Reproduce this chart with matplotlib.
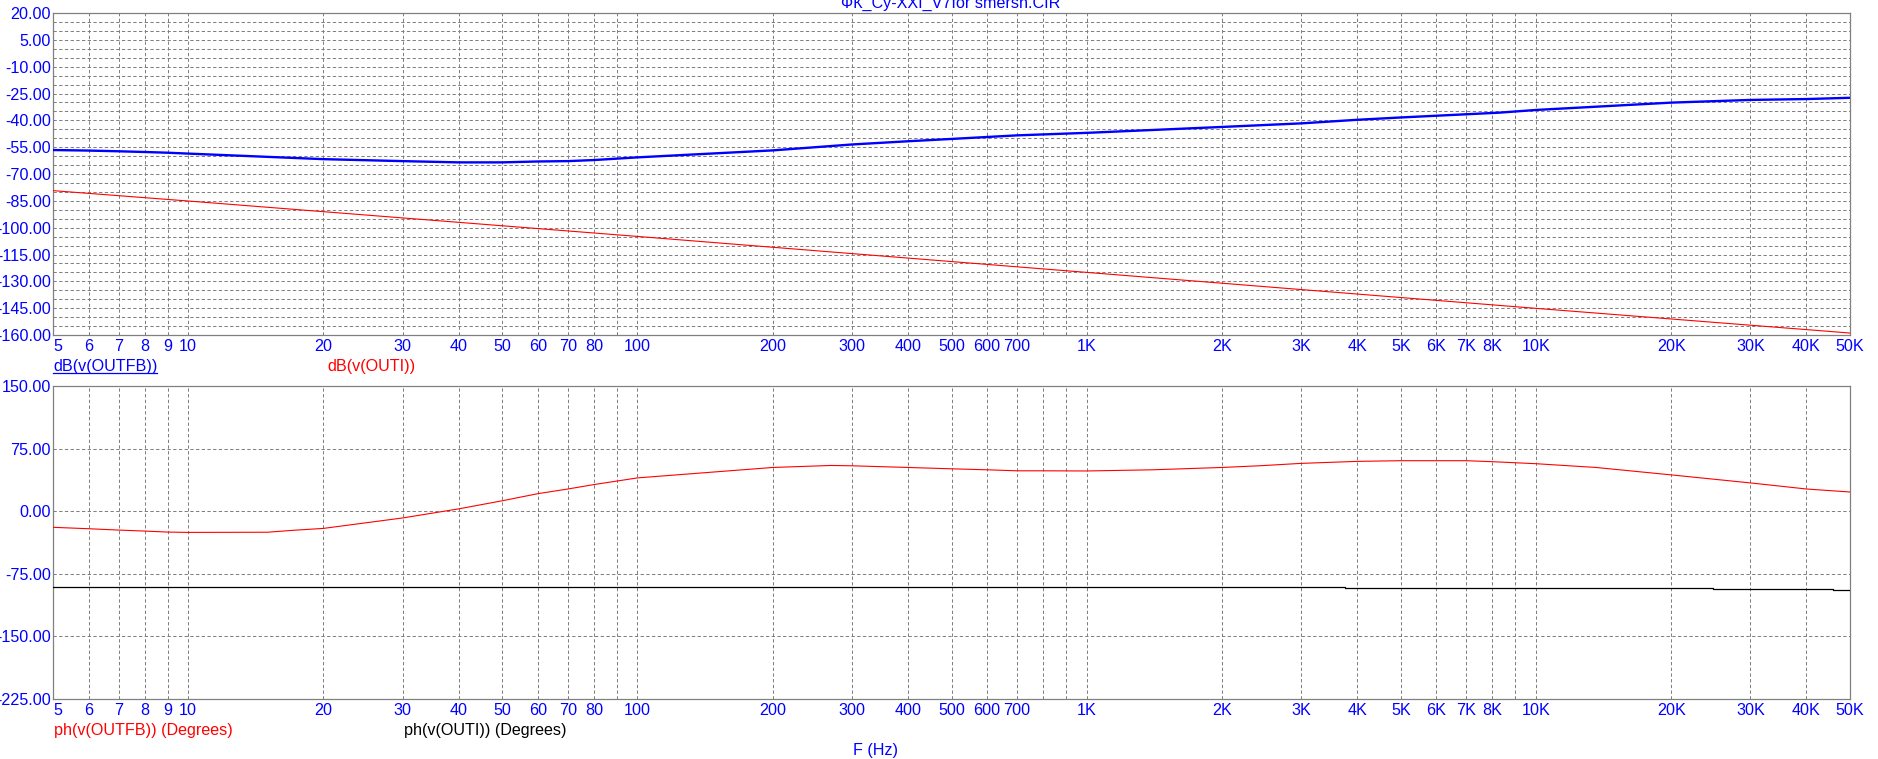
import matplotlib
matplotlib.use("Agg")
import matplotlib.pyplot as plt
from matplotlib.lines import Line2D

plt.rcParams['font.family'] = ['Liberation Sans', 'DejaVu Sans']

W, H = 1878, 759
DPI = 100

# ---------------- data ----------------
title_text = "ФК_Су-XXI_V7for smersh.CIR"

# labelled frequency ticks
freq_ticks = [5, 6, 7, 8, 9, 10, 20, 30, 40, 50, 60, 70, 80, 100,
              200, 300, 400, 500, 600, 700, 1000, 2000, 3000, 4000, 5000,
              6000, 7000, 8000, 10000, 20000, 30000, 40000, 50000]
freq_tick_labels = ["5", "6", "7", "8", "9", "10", "20", "30", "40", "50", "60",
                    "70", "80", "100", "200", "300", "400", "500", "600", "700",
                    "1K", "2K", "3K", "4K", "5K", "6K", "7K", "8K", "10K",
                    "20K", "30K", "40K", "50K"]

# top plot: magnitude (dB)
freq_outfb_db = [5, 6, 7, 8, 9, 10, 20, 30, 40, 50, 60, 70, 80, 100, 200, 300,
                 400, 500, 700, 1000, 2000, 3000, 4000, 5000, 8300, 10000,
                 20000, 30000, 40000, 50000]
db_outfb = [-56.6, -56.9, -57.3, -57.7, -58.1, -58.6, -61.7, -62.8, -63.5, -63.5,
            -63.0, -62.8, -62.2, -60.7, -56.8, -53.5, -51.7, -50.4, -48.4, -47.0,
            -43.7, -41.7, -39.7, -38.4, -35.7, -34.2, -30.1, -28.6, -28.1, -27.4]

freq_outi_db = [5, 10, 100, 1000, 10000, 50000]
db_outi = [-79.3, -85.1, -104.9, -125.0, -145.1, -158.9]

db_ticks = [20, 5, -10, -25, -40, -55, -70, -85, -100, -115, -130, -145, -160]

# bottom plot: phase (degrees)
freq_outfb_ph = [5, 6, 7, 8, 9, 10, 15, 17, 20, 30, 40, 50, 60, 70, 80, 100,
                 200, 270, 300, 400, 500, 600, 700, 800, 1000, 1400, 2000, 2440,
                 3000, 4000, 5000, 7000, 8000, 10000, 13600, 20000, 30000,
                 40000, 50000]
ph_outfb = [-19.3, -21.0, -22.6, -23.8, -25.0, -25.4, -25.2, -23.0, -20.6, -8.1,
            2.8, 12.5, 21.0, 26.6, 31.9, 39.9, 52.4, 54.8, 54.4, 52.4, 50.8,
            49.6, 48.4, 48.4, 48.2, 49.6, 52.4, 54.5, 57.3, 59.7, 60.5, 60.5,
            59.3, 56.9, 52.4, 43.5, 33.9, 26.6, 23.0]

freq_outi_ph = [5, 3760, 24800, 45800, 50000]
ph_outi = [-90.7, -91.9, -93.1, -94.7, -94.7]

ph_ticks = [150, 75, 0, -75, -150, -225]

# ---------------- styling ----------------
BLUE = "#0000FF"
RED = "#FF0000"
GRID = "#808080"
FS = 11.6

fig = plt.figure(figsize=(W / DPI, H / DPI), dpi=DPI)
fig.patch.set_facecolor("white")


def px_rect(left, top, right, bottom):
    return [left / W, 1 - bottom / H, (right - left) / W, (bottom - top) / H]


ax1 = fig.add_axes(px_rect(53, 13, 1850, 335))
ax2 = fig.add_axes(px_rect(53, 386, 1850, 699))

# all vertical grid positions: n*10^k in range
grid_x = [n * 10 ** k for k in range(0, 5) for n in range(1, 10)
          if 5 <= n * 10 ** k <= 50000]
grid_x_labels = [freq_tick_labels[freq_ticks.index(g)] if g in freq_ticks else ""
                 for g in grid_x]

for ax in (ax1, ax2):
    ax.set_xscale("log")
    ax.set_xlim(5, 50000)
    ax.set_xticks(grid_x, labels=grid_x_labels)
    ax.xaxis.set_minor_locator(matplotlib.ticker.NullLocator())
    ax.tick_params(axis="both", which="both", length=0, labelcolor=BLUE,
                   labelsize=FS)
    ax.tick_params(axis="x", pad=2.6)
    ax.tick_params(axis="y", pad=1.6)
    ax.grid(True, which="major", color=GRID, linewidth=0.72,
            linestyle=(0, (3.3, 2.4)))
    ax.set_axisbelow(True)
    for s in ax.spines.values():
        s.set_color(GRID)
        s.set_linewidth(0.9)
    for lab in ax.get_xticklabels():
        if lab.get_text() == "5":
            lab.set_horizontalalignment("left")

# top axis
ax1.plot(freq_outfb_db, db_outfb, color=BLUE, linewidth=1.7, zorder=3)
ax1.plot(freq_outi_db, db_outi, color=RED, linewidth=0.8, zorder=3)
ax1.set_ylim(-160, 20)
db_grid = list(range(20, -161, -5))
ax1.set_yticks(db_grid, labels=[f"{v:.2f}" if v in db_ticks else "" for v in db_grid])

# bottom axis
ax2.plot(freq_outfb_ph, ph_outfb, color=RED, linewidth=0.8, zorder=3)
ax2.plot(freq_outi_ph, ph_outi, color="black", linewidth=0.9,
         drawstyle="steps-post", zorder=3)
ax2.set_ylim(-225, 150)
ax2.set_yticks(ph_ticks, labels=[f"{v:.2f}" for v in ph_ticks])


def ftxt(x, y, s, color, ha="left"):
    return fig.text(x / W, 1 - y / H, s, color=color, fontsize=FS, ha=ha,
                    va="baseline")


ftxt(951, 8, title_text, BLUE, ha="center")
t_fb = ftxt(53, 371.5, "dB(v(OUTFB))", BLUE)
ftxt(327, 371.5, "dB(v(OUTI))", RED)
ftxt(53.5, 735, "ph(v(OUTFB)) (Degrees)", RED)
ftxt(404, 735, "ph(v(OUTI)) (Degrees)", "black")
ftxt(853, 755, "F (Hz)", BLUE)

# underline of the active trace name
fig.canvas.draw()
bb = t_fb.get_window_extent(renderer=fig.canvas.get_renderer())
uy = 1 - 373.2 / H
fig.add_artist(Line2D([bb.x0 / W, bb.x1 / W], [uy, uy], color=BLUE,
                      linewidth=0.9, transform=fig.transFigure))

fig.savefig("out.png", dpi=DPI, facecolor="white")
